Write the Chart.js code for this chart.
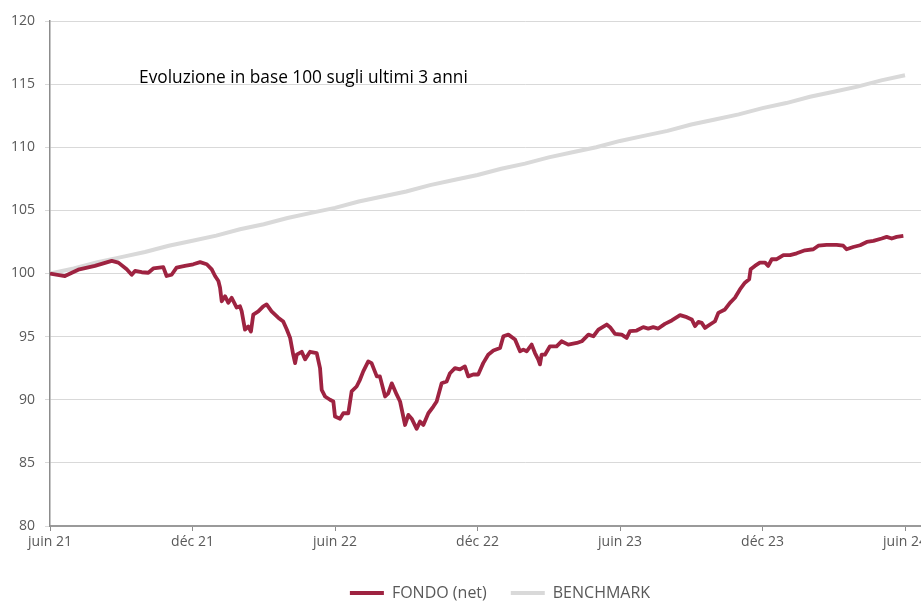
<!DOCTYPE html>
<html>
<head>
<meta charset="utf-8">
<script src="https://cdn.jsdelivr.net/npm/chart.js@4.4.1/dist/chart.umd.min.js"></script>
<style>
html,body{margin:0;padding:0;overflow:hidden;background:#fff;width:921px;height:602px;}
#c{display:block;}
</style>
</head>
<body>
<canvas id="c" width="1009" height="602" style="width:1009px;height:602px"></canvas>
<script>
// Months since June 2021
const tickMonths = [0, 6, 12, 18, 24, 30, 36];
const tickLabels = ['juin 21', 'déc 21', 'juin 22', 'déc 22', 'juin 23', 'déc 23', 'juin 24'];
const yTicks = [80, 85, 90, 95, 100, 105, 110, 115, 120];
const seriesNames = ['FONDO (net)', 'BENCHMARK'];
const chartTitle = 'Evoluzione in base 100 sugli ultimi 3 anni';

const fundMonths = [0.0,0.63,1.19,1.89,2.6,2.88,3.23,3.44,3.58,3.86,4.14,4.35,4.77,4.91,5.12,5.33,5.68,6.03,6.32,6.6,6.81,6.95,7.09,7.16,7.23,7.37,7.51,7.65,7.86,8.0,8.07,8.21,8.35,8.46,8.56,8.77,8.98,9.12,9.33,9.61,9.82,9.97,10.11,10.24,10.32,10.39,10.6,10.74,10.95,11.23,11.37,11.44,11.58,11.79,11.93,12.0,12.21,12.35,12.56,12.7,12.91,13.05,13.19,13.4,13.54,13.76,13.89,14.11,14.24,14.39,14.6,14.74,14.95,15.09,15.23,15.44,15.58,15.72,15.93,16.14,16.28,16.49,16.7,16.84,17.05,17.26,17.47,17.61,17.82,18.03,18.24,18.45,18.67,18.95,19.09,19.3,19.58,19.79,19.93,20.07,20.28,20.42,20.56,20.63,20.7,20.84,21.05,21.33,21.54,21.82,22.18,22.39,22.67,22.88,23.09,23.44,23.58,23.79,24.07,24.28,24.42,24.7,24.98,25.19,25.4,25.61,25.89,26.18,26.53,26.81,27.02,27.16,27.3,27.44,27.58,27.79,28.0,28.14,28.42,28.63,28.84,29.05,29.26,29.44,29.5,29.68,29.89,30.11,30.24,30.39,30.6,30.88,31.16,31.44,31.79,32.14,32.35,32.7,33.12,33.4,33.54,33.82,34.11,34.39,34.67,35.02,35.23,35.44,35.65,35.93];
const fundValues = [100.0,99.8,100.3,100.6,101.0,100.86,100.33,99.9,100.2,100.1,100.06,100.4,100.5,99.8,99.9,100.46,100.6,100.73,100.9,100.73,100.33,99.8,99.4,98.87,97.8,98.2,97.68,98.08,97.3,97.4,97.02,95.56,95.8,95.4,96.75,97.0,97.4,97.55,97.0,96.5,96.2,95.56,94.9,93.57,92.9,93.57,93.8,93.2,93.8,93.7,92.5,90.78,90.26,90.0,89.86,88.67,88.5,88.93,88.93,90.66,91.05,91.58,92.25,93.04,92.9,91.85,91.85,90.26,90.5,91.3,90.4,89.86,88.0,88.8,88.5,87.7,88.27,88.0,88.93,89.46,89.86,91.3,91.45,92.1,92.5,92.4,92.64,91.85,92.0,92.0,92.9,93.57,93.9,94.1,95.03,95.16,94.77,93.84,93.97,93.84,94.37,93.7,93.18,92.8,93.57,93.57,94.23,94.23,94.63,94.37,94.5,94.63,95.16,95.03,95.56,95.96,95.75,95.22,95.16,94.9,95.43,95.48,95.75,95.64,95.75,95.64,96.01,96.28,96.7,96.54,96.36,95.83,96.17,96.09,95.69,95.96,96.22,96.88,97.15,97.68,98.08,98.74,99.27,99.54,100.33,100.6,100.86,100.86,100.6,101.13,101.13,101.45,101.45,101.6,101.84,101.92,102.2,102.27,102.27,102.2,101.92,102.1,102.24,102.5,102.58,102.77,102.9,102.77,102.9,102.98];

const benchMonths = [0,1,2,3,4,5,6,7,8,9,10,11,12,13,14,15,16,17,18,19,20,21,22,23,24,25,26,27,28,29,30,31,32,33,34,35,36];
const benchValues = [100.0,100.4,100.9,101.3,101.7,102.2,102.6,103.0,103.5,103.9,104.4,104.8,105.2,105.7,106.1,106.5,107.0,107.4,107.8,108.3,108.7,109.2,109.6,110.0,110.5,110.9,111.3,111.8,112.2,112.6,113.1,113.5,114.0,114.4,114.8,115.3,115.7];

const FONT = "'Open Sans', 'DejaVu Sans', sans-serif";
const TXT = '#595959';

const titlePlugin = {
  id: 'innerTitle',
  afterDatasetsDraw(chart) {
    const {ctx, scales} = chart;
    ctx.save();
    ctx.font = "17.3px " + FONT;
    ctx.fillStyle = '#000';
    ctx.textAlign = 'left';
    ctx.textBaseline = 'alphabetic';
    ctx.fillText(chartTitle, scales.x.getPixelForValue(3.75), scales.y.getPixelForValue(115.1));
    ctx.restore();
  }
};

new Chart(document.getElementById('c'), {
  type: 'line',
  data: {
    datasets: [
      {
        label: seriesNames[0],
        data: fundMonths.map((m, i) => ({x: m, y: fundValues[i]})),
        borderColor: '#9e2341',
        backgroundColor: '#9e2341',
        borderWidth: 3.8,
        pointRadius: 0,
        tension: 0,
        borderJoinStyle: 'round',
        order: 1
      },
      {
        label: seriesNames[1],
        data: benchMonths.map((m, i) => ({x: m, y: benchValues[i]})),
        borderColor: '#d9d9d9',
        backgroundColor: '#d9d9d9',
        borderWidth: 4,
        pointRadius: 0,
        tension: 0,
        order: 2
      }
    ]
  },
  options: {
    responsive: false,
    animation: false,
    devicePixelRatio: 1,
    layout: {padding: {top: 21, right: 9, left: 0, bottom: -9}},
    plugins: {
      legend: {
        position: 'bottom',
        labels: {
          boxWidth: 34,
          boxHeight: 4,
          padding: 24,
          color: TXT,
          font: {family: FONT, size: 16},
          generateLabels: (chart) => Chart.defaults.plugins.legend.labels.generateLabels(chart).map(l => Object.assign(l, {fillStyle: l.strokeStyle, lineWidth: 0}))
        }
      },
      tooltip: {enabled: false}
    },
    scales: {
      x: {
        type: 'linear',
        min: 0,
        max: 40,
        afterBuildTicks: (s) => { s.ticks = tickMonths.map(v => ({value: v})); },
        afterFit: (s) => { s.height = 35; },
        ticks: {
          color: TXT,
          font: {family: FONT, size: 14},
          padding: 3,
          maxRotation: 0,
          autoSkip: false,
          callback: (v) => { const i = tickMonths.indexOf(v); return i >= 0 ? tickLabels[i] : ''; }
        },
        grid: {display: true, drawOnChartArea: false, drawTicks: true, tickLength: 5, color: '#8c8c8c', lineWidth: 1},
        border: {display: true, color: '#9a9a9a', width: 2}
      },
      y: {
        min: 80,
        max: 120,
        afterBuildTicks: (s) => { s.ticks = yTicks.map(v => ({value: v})); },
        afterFit: (s) => { s.width = 50; },
        ticks: {
          color: TXT,
          font: {family: FONT, size: 14},
          padding: 10
        },
        grid: {color: '#d9d9d9', lineWidth: 1, tickLength: 5},
        border: {display: true, color: '#8c8c8c', width: 1.5}
      }
    }
  },
  plugins: [titlePlugin]
});
</script>
</body>
</html>
